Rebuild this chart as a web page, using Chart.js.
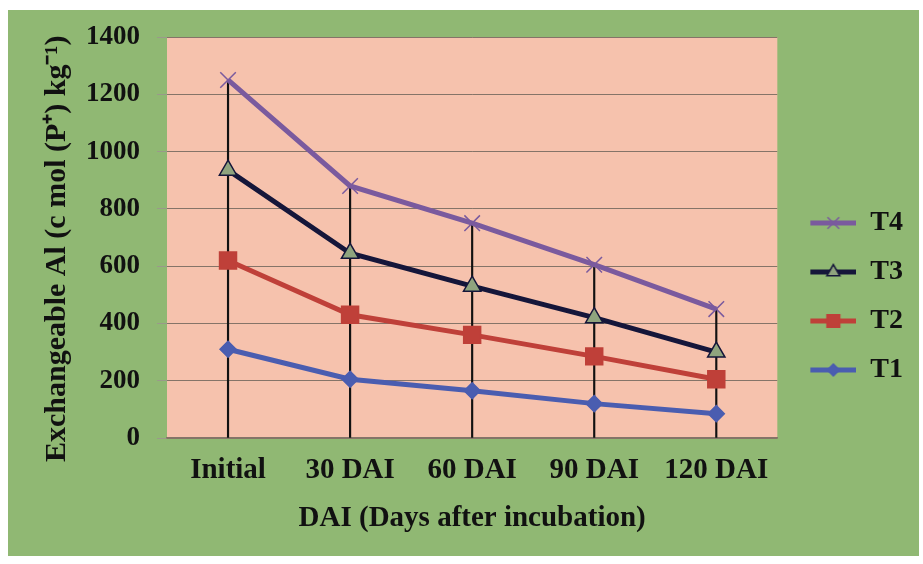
<!DOCTYPE html>
<html>
<head>
<meta charset="utf-8">
<script src="https://cdn.jsdelivr.net/npm/chart.js@4"></script>
<style>
    body { margin: 0; background: #ffffff; }
    #box { position: absolute; left: 8px; top: 10px; width: 911px; height: 546px; background: #90b873; }
</style>
</head>
<body>
<div id="box"><canvas id="al-chart" width="911" height="546"></canvas></div>
<script>
let categories = ["Initial", "30 DAI", "60 DAI", "90 DAI", "120 DAI"]
let t1_values = [310, 205, 165, 120, 85]
let t2_values = [620, 430, 360, 285, 205]
let t3_values = [935, 645, 530, 420, 300]
let t4_values = [1250, 880, 750, 605, 450]
let y_ticks = [0, 200, 400, 600, 800, 1000, 1200, 1400]

let serif = "'Liberation Serif', 'Times New Roman', serif"

// Drop lines run from the highest series down to zero
let drop_lines = []
for (let i = 0; i < categories.length; i++) {
    drop_lines.push([0, Math.max(t1_values[i], t2_values[i], t3_values[i], t4_values[i])])
}

// Small pictures for the legend: a line with the marker on it
function legend_icon(color, style, fill, border, radius) {
    let c = document.createElement("canvas")
    c.width = 58
    c.height = 26
    let ctx = c.getContext("2d")
    ctx.strokeStyle = color
    ctx.lineWidth = 5
    ctx.beginPath()
    ctx.moveTo(12, 13)
    ctx.lineTo(58, 13)
    ctx.stroke()
    ctx.fillStyle = fill
    ctx.strokeStyle = border
    ctx.lineWidth = 1.5
    Chart.helpers.drawPoint(ctx, {pointStyle: style, radius: radius, rotation: 0, borderWidth: 1.5}, 35, 13)
    return c
}

let plot_bg = {
    id: "plot_bg",
    beforeDraw(chart) {
        let a = chart.chartArea
        let ctx = chart.ctx
        ctx.save()
        ctx.fillStyle = "#f6c2ad"
        ctx.fillRect(a.left, a.top, a.right - a.left, a.bottom - a.top)
        ctx.restore()
    }
}

let series = [
    {label: "T4", data: t4_values, color: "#7a5a9e", style: "crossRot", fill: "#7a5a9e", border: "#7a5a9e", radius: 11},
    {label: "T3", data: t3_values, color: "#15163a", style: "triangle", fill: "#8fa47e", border: "#15163a", radius: 10},
    {label: "T2", data: t2_values, color: "#bf4039", style: "rect", fill: "#bf4039", border: "#bf4039", radius: 12},
    {label: "T1", data: t1_values, color: "#4a5db0", style: "rectRot", fill: "#4a5db0", border: "#4a5db0", radius: 8}
]

let datasets = []
for (let i = 0; i < series.length; i++) {
    let s = series[i]
    datasets.push({
        type: "line",
        label: s.label,
        data: s.data,
        borderColor: s.color,
        borderWidth: 5,
        pointStyle: s.style,
        pointRadius: s.radius,
        pointBackgroundColor: s.fill,
        pointBorderColor: s.border,
        pointBorderWidth: 1.5,
        tension: 0,
        order: 1,
        icon: legend_icon(s.color, s.style, s.fill, s.border, s.radius * 0.75)
    })
}
datasets.push({
    type: "bar",
    label: "drop",
    data: drop_lines,
    backgroundColor: "#111111",
    barThickness: 1.5,
    order: 5
})

new Chart("al-chart", {
    data: {
        labels: categories,
        datasets: datasets
    },
    options: {
        responsive: false,
        animation: false,
        layout: {padding: {top: 27, right: 6, bottom: 0, left: 0}},
        plugins: {
            tooltip: {enabled: false},
            legend: {
                position: "right",
                labels: {
                    usePointStyle: true,
                    pointStyleWidth: 58,
                    padding: 21,
                    color: "#111111",
                    font: {family: serif, size: 28, weight: "bold", lineHeight: 1.2},
                    generateLabels(chart) {
                        return chart.data.datasets.slice(0, 4).map((ds, i) => ({
                            text: ds.label,
                            pointStyle: ds.icon,
                            fillStyle: "rgba(0,0,0,0)",
                            strokeStyle: "rgba(0,0,0,0)",
                            lineWidth: 0,
                            fontColor: "#111111",
                            datasetIndex: i,
                            hidden: false
                        }))
                    }
                }
            }
        },
        scales: {
            x: {
                offset: true,
                grid: {display: false, drawTicks: false},
                border: {display: true, color: "#857468", width: 1.5},
                ticks: {
                    padding: 15,
                    color: "#111111",
                    font: {family: serif, size: 29, weight: "bold"},
                    maxRotation: 0
                },
                title: {
                    display: true,
                    text: "DAI (Days after incubation)",
                    color: "#111111",
                    font: {family: serif, size: 29, weight: "bold"},
                    padding: {top: 0, bottom: 20}
                },
                afterFit(scale) { scale.height = 118 }
            },
            y: {
                min: 0,
                max: 1400,
                afterBuildTicks(scale) { scale.ticks = y_ticks.map(v => ({value: v})) },
                grid: {color: "#857468", lineWidth: 1, tickLength: 10, tickColor: "#9a9a8a"},
                border: {display: false},
                ticks: {
                    padding: 17,
                    color: "#111111",
                    font: {family: serif, size: 27, weight: "bold"},
                    callback: (v) => String(v)
                },
                title: {
                    display: true,
                    // trailing spaces push the title a little toward the bottom, as in the original
                    text: "Exchangeable Al (c mol (P\u207A) kg\u207B\u00B9)   ",
                    color: "#111111",
                    font: {family: serif, size: 30, weight: "bold"},
                    padding: {top: 31, bottom: 0}
                },
                afterFit(scale) {
                    scale.width = 159
                    scale.paddingTop = 0
                    scale.paddingBottom = 0
                }
            }
        }
    },
    plugins: [plot_bg]
})
</script>
</body>
</html>
